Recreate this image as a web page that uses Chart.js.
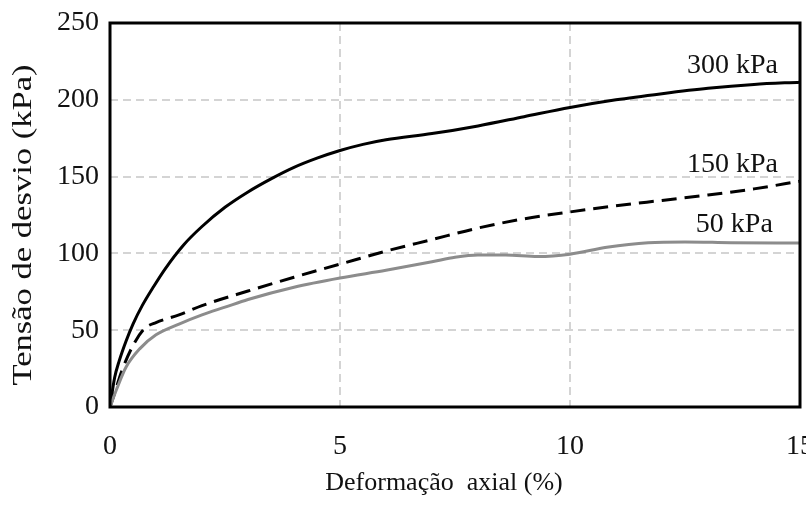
<!DOCTYPE html>
<html>
<head>
<meta charset="utf-8">
<script src="https://cdn.jsdelivr.net/npm/chart.js@4/dist/chart.umd.min.js"></script>
<style>
html,body{margin:0;padding:0;background:#fff;}
#wrap{width:806px;height:506px;}
</style>
</head>
<body>
<div id="wrap"><canvas id="c" width="806" height="506"></canvas></div>
<script>
// Strain (%) and deviator stress (kPa)
const x300 = [0, 0.1, 0.2, 0.35, 0.5, 0.7, 0.95, 1.2, 1.6, 2.0, 2.5, 3.0, 3.5, 4.0, 4.5, 5.0, 5.5, 6.0, 7.0, 8.0, 9.0, 10.0, 11.0, 12.0, 13.0, 14.0, 15.0];
const y300 = [0, 19, 30, 43, 54, 66, 78.5, 90, 105.5, 117.5, 130, 140, 148.5, 156, 162, 167, 171, 174, 178, 183, 189, 195, 200, 204, 207.5, 210, 211.5];

const x150 = [0, 0.1, 0.25, 0.5, 0.75, 1.0, 1.5, 2.0, 3.0, 4.0, 5.0, 6.0, 7.0, 8.0, 9.0, 10.0, 11.0, 12.0, 13.0, 14.0, 15.0];
const y150 = [0, 9, 23, 40, 51, 55, 60, 66, 75.5, 84.5, 93, 101.5, 109, 116.5, 122.5, 127, 131, 134.5, 138, 142, 147];

const x50 = [0, 0.15, 0.35, 0.65, 1.0, 1.5, 2.0, 2.5, 3.0, 4.0, 5.0, 6.0, 7.0, 7.5, 8.0, 8.6, 9.3, 10.0, 10.8, 11.7, 12.5, 13.5, 14.5, 15.0];
const y50 = [0, 12, 26, 38, 47, 54, 60, 65, 70, 78, 84, 89, 94.5, 97.5, 99, 99, 98, 99.5, 104, 107, 107.5, 107, 106.8, 106.8];

const seriesNames = ['300 kPa', '150 kPa', '50 kPa'];
const xTicks = [0, 5, 10, 15];
const yTicks = [0, 50, 100, 150, 200, 250];
const xTitle = 'Deformação  axial (%)';
const yTitle = 'Tensão de desvio (kPa)';
// label anchor positions (data units) for the curve annotations
const labelX = [14.52, 14.52, 14.41];
const labelY = [222, 158, 118.5];

const pts = (xs, ys) => xs.map((v, i) => ({x: v, y: ys[i]}));
const FONT = "'Liberation Serif', 'Times New Roman', serif";

const frame = {
  id: 'frame',
  afterDatasetsDraw(chart) {
    const {ctx, chartArea: a, scales} = chart;
    ctx.save();
    ctx.strokeStyle = '#000';
    ctx.lineWidth = 3;
    ctx.strokeRect(a.left, a.top, a.right - a.left, a.bottom - a.top);
    ctx.fillStyle = '#111';
    ctx.font = '28px ' + FONT;
    ctx.textAlign = 'right';
    ctx.textBaseline = 'middle';
    seriesNames.forEach((n, i) => {
      ctx.fillText(n, scales.x.getPixelForValue(labelX[i]), scales.y.getPixelForValue(labelY[i]));
    });
    // axis titles
    ctx.font = '26px ' + FONT;
    ctx.textAlign = 'center';
    ctx.fillText(xTitle, 444, 483);
    ctx.font = '27px ' + FONT;
    ctx.translate(24, 225);
    ctx.rotate(-Math.PI / 2);
    ctx.scale(1.28, 1);
    ctx.fillText(yTitle, 0, 0);
    ctx.restore();
  }
};

new Chart(document.getElementById('c'), {
  type: 'line',
  data: {
    datasets: [
      {label: seriesNames[2], data: pts(x50, y50), borderColor: '#8c8c8c', borderWidth: 3},
      {label: seriesNames[1], data: pts(x150, y150), borderColor: '#000', borderWidth: 3, borderDash: [15, 8]},
      {label: seriesNames[0], data: pts(x300, y300), borderColor: '#000', borderWidth: 3}
    ]
  },
  options: {
    responsive: false,
    animation: false,
    devicePixelRatio: 1,
    layout: {padding: {top: 23, right: 6, left: 0, bottom: 0}},
    elements: {point: {radius: 0}, line: {cubicInterpolationMode: 'monotone', fill: false}},
    plugins: {legend: {display: false}, tooltip: {enabled: false}},
    scales: {
      x: {
        type: 'linear', min: 0, max: 15,
        afterBuildTicks: s => { s.ticks = xTicks.map(v => ({value: v})); },
        afterFit: s => { s.height = 99; s.paddingLeft = 0; s.paddingRight = 0; },
        grid: {color: '#d4d4d4', lineWidth: 2, drawTicks: false},
        border: {display: false, dash: [8, 5]},
        ticks: {color: '#111', font: {family: FONT, size: 28}, padding: 23, maxRotation: 0}
      },
      y: {
        type: 'linear', min: 0, max: 250,
        afterBuildTicks: s => { s.ticks = yTicks.map(v => ({value: v})); },
        afterFit: s => { s.width = 110; s.paddingTop = 0; s.paddingBottom = 0; },
        grid: {color: '#d4d4d4', lineWidth: 2, drawTicks: false},
        border: {display: false, dash: [8, 5]},
        ticks: {color: '#111', font: {family: FONT, size: 28}, padding: 11}
      }
    }
  },
  plugins: [frame]
});
</script>
</body>
</html>
